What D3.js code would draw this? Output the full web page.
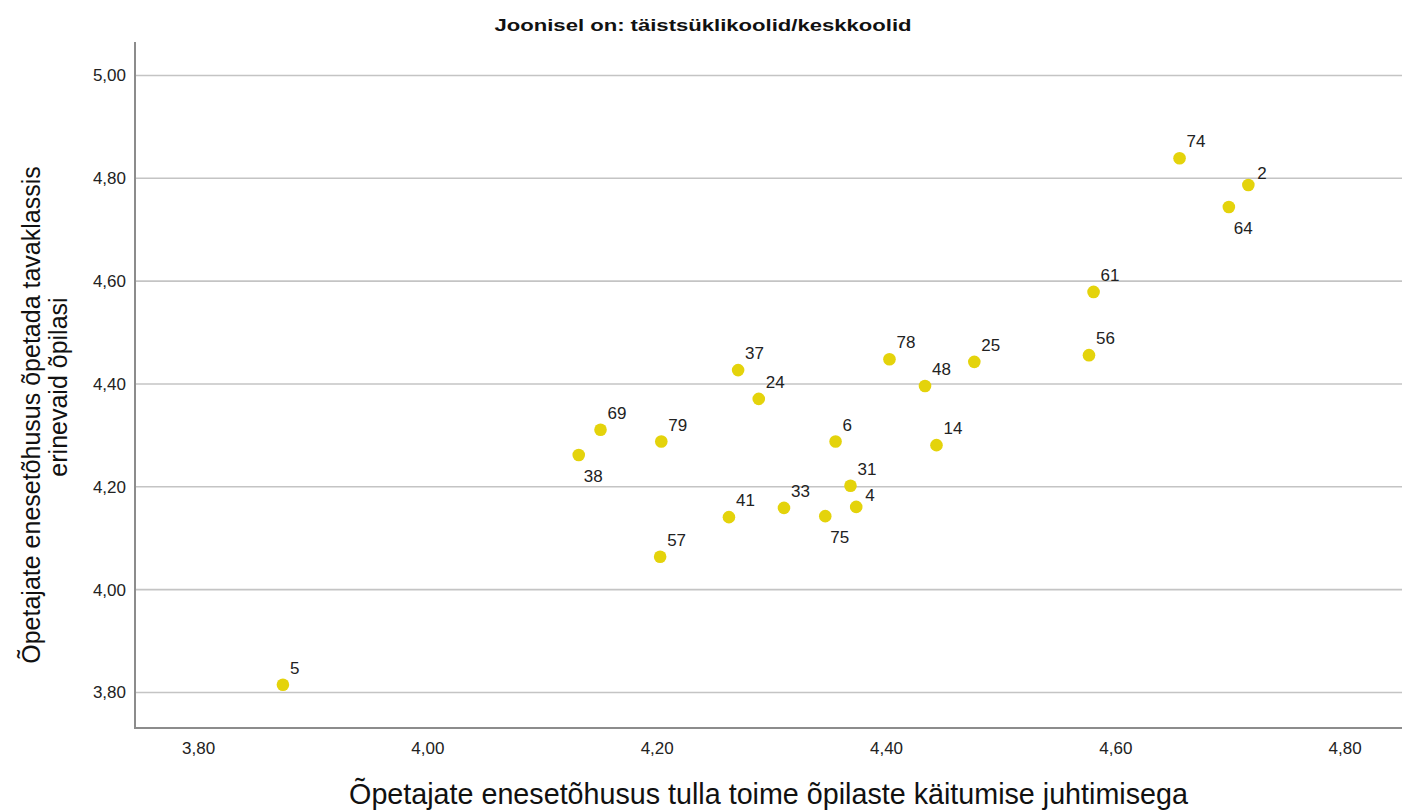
<!DOCTYPE html>
<html><head><meta charset="utf-8">
<script src="https://cdn.jsdelivr.net/npm/d3@7"></script>
<style>html,body{margin:0;padding:0;background:#fff;}</style>
</head><body>
<svg id="chart" width="1402" height="812"></svg>
<script>
// ---- data ----
const schoolIds = ["5","38","69","79","57","41","37","24","33","75","6","31","4","78","48","14","25","56","61","74","64","2"];
const xValues   = [3.874,4.132,4.151,4.204,4.203,4.263,4.271,4.289,4.311,4.347,4.356,4.369,4.374,4.403,4.434,4.444,4.477,4.577,4.581,4.656,4.699,4.716];
const yValues   = [3.815,4.262,4.311,4.288,4.064,4.141,4.427,4.371,4.159,4.143,4.288,4.202,4.161,4.448,4.396,4.281,4.443,4.456,4.579,4.839,4.744,4.787];
const xTicks = [3.8,4.0,4.2,4.4,4.6,4.8];
const yTicks = [3.8,4.0,4.2,4.4,4.6,4.8,5.0];
const titleText = "Joonisel on: täistsüklikoolid/keskkoolid";
const xTitle = "Õpetajate enesetõhusus tulla toime õpilaste käitumise juhtimisega";
const yTitleLines = ["Õpetajate enesetõhusus õpetada tavaklassis","erinevaid õpilasi"];

// ---- drawing ----
const svg = d3.select("#chart");
const L=135, R=1402, T=42, B=728;
const x = d3.scaleLinear().domain([3.745,4.85]).range([L,R]);
const y = d3.scaleLinear().domain([3.731,5.065]).range([B,T]);
const fmt = v => d3.format(".2f")(v).replace(".", ",");
const font = "'Liberation Sans', Arial, sans-serif";

svg.append("rect").attr("width",1402).attr("height",812).attr("fill","#fff");

// gridlines
svg.append("g").selectAll("line").data(yTicks).join("line")
  .attr("x1",L).attr("x2",R).attr("y1",d=>y(d)).attr("y2",d=>y(d))
  .attr("stroke","#c4c4c4").attr("stroke-width",1.6);

// y axis labels
const yAxis = d3.axisLeft(y).tickValues(yTicks).tickFormat(fmt).tickSize(0).tickPadding(9);
const gy = svg.append("g").attr("transform",`translate(${L},0)`).call(yAxis);
gy.select(".domain").remove();
gy.selectAll("text").attr("font-family",font).attr("font-size",17).attr("fill","#222");

// x axis labels
const xAxis = d3.axisBottom(x).tickValues(xTicks).tickFormat(fmt).tickSize(0).tickPadding(14);
const gx = svg.append("g").attr("transform",`translate(0,${B})`).call(xAxis);
gx.select(".domain").remove();
gx.selectAll("text").attr("font-family",font).attr("font-size",17).attr("fill","#222");

// axis lines
svg.append("line").attr("x1",L).attr("x2",L).attr("y1",T).attr("y2",B+1).attr("stroke","#8c8c8c").attr("stroke-width",2);
svg.append("line").attr("x1",L).attr("x2",R).attr("y1",B).attr("y2",B).attr("stroke","#8c8c8c").attr("stroke-width",2);

// points
const pts = schoolIds.map((id,i)=>({id, xv:xValues[i], yv:yValues[i]}));
svg.append("g").selectAll("circle").data(pts).join("circle")
  .attr("cx",d=>x(d.xv)).attr("cy",d=>y(d.yv)).attr("r",6.3).attr("fill","#e4d30b");

// labels
const below = new Set(["64","38","75"]);
const side = new Set(["2","4"]);
svg.append("g").selectAll("text").data(pts).join("text")
  .attr("x",d=>x(d.xv)+(below.has(d.id)?5:side.has(d.id)?9:7))
  .attr("y",d=>y(d.yv)+(below.has(d.id)?27:side.has(d.id)?-6:-11))
  .attr("font-family",font).attr("font-size",17).attr("fill","#222")
  .text(d=>d.id);

// title
svg.append("text").attr("x",703).attr("y",31).attr("text-anchor","middle")
  .attr("font-family","'Liberation Sans Narrow', 'Liberation Sans', Arial, sans-serif")
  .attr("font-weight","bold").attr("font-size",16).attr("fill","#111")
  .attr("textLength",417).attr("lengthAdjust","spacingAndGlyphs")
  .text(titleText);

// x title
svg.append("text").attr("x",(L+R)/2).attr("y",804).attr("text-anchor","middle")
  .attr("font-family",font).attr("font-size",28.7).attr("fill","#111")
  .text(xTitle);

// y title
const yt = svg.append("g");
yt.append("text").attr("transform","translate(40,415) rotate(-90)").attr("text-anchor","middle")
  .attr("font-family",font).attr("font-size",25).attr("fill","#111").text(yTitleLines[0]);
yt.append("text").attr("transform","translate(67,387) rotate(-90)").attr("text-anchor","middle")
  .attr("font-family",font).attr("font-size",25).attr("fill","#111").text(yTitleLines[1]);
</script>
</body></html>
